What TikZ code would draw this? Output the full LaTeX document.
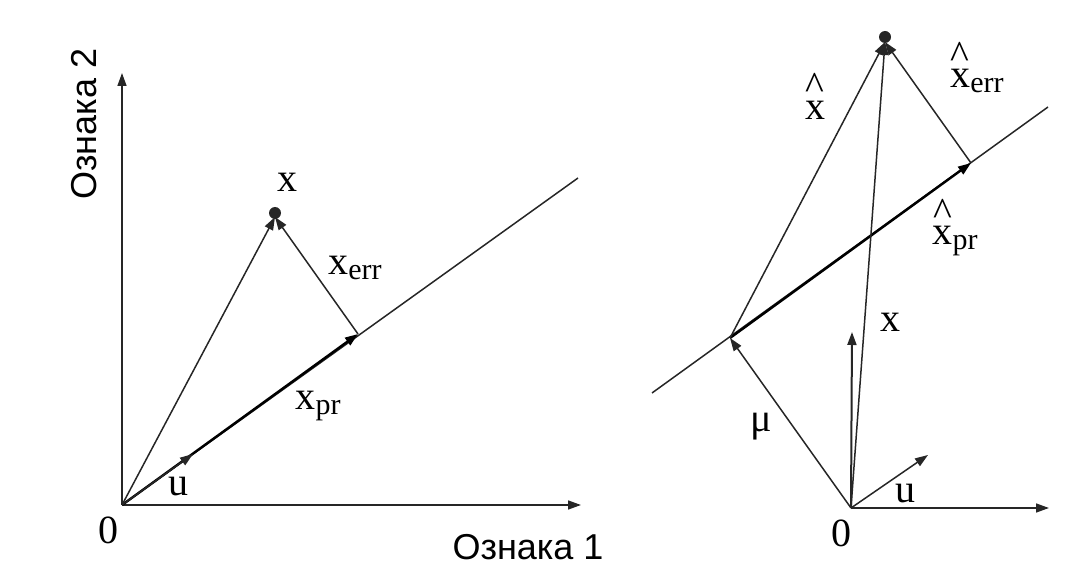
\documentclass[tikz,border=0pt]{standalone}
\usepackage{fontspec}
\setmainfont{Liberation Serif}
\newfontfamily\axsans{Liberation Sans}
\usetikzlibrary{arrows.meta}
\newcommand{\xh}{\ooalign{x\cr\hidewidth\raisebox{0.48em}{\textasciicircum}\hidewidth\cr}}
\newcommand{\low}[1]{\raisebox{-0.12em}{\fontsize{15}{15}\selectfont #1}}

\begin{document}
\begin{tikzpicture}[x=0.5pt,y=0.5pt,
  ln/.style={line width=0.75pt,draw=black!85},
  vec/.style={ln,-{Triangle[length=6.5pt,width=4.5pt]}},
  lbl/.style={font=\fontsize{20}{24}\selectfont,inner sep=0pt},
  axlbl/.style={font=\axsans\fontsize{18}{22}\selectfont,inner sep=0pt}]
\useasboundingbox (0,0) rectangle (1078,574);
\coordinate (o1) at (122,69);
\coordinate (a1) at (122,501);
\coordinate (b1) at (581,69);
\coordinate (l1) at (578,396);
\coordinate (u1) at (193,120);
\coordinate (p1) at (358,240);
\coordinate (x1) at (275,357);
\draw[ln] (o1) -- (l1);
\draw[vec] (o1) -- (a1);
\draw[vec] (o1) -- (b1);
\draw[vec,line width=1.2pt,draw=black] (o1) -- (p1);
\draw[vec] (o1) -- (u1);
\draw[vec] (o1) -- (x1);
\draw[vec] (p1) -- (x1);
\fill[black!85] (275,361) circle (6);
\node[lbl] (lx1) at (287,392) {x};
\node[lbl] (lerr1) at (355,306) {x\low{err}};
\node[lbl] (lpr1) at (318,168) {x\low{pr}};
\node[lbl] (lu1) at (178,87) {u};
\node[lbl] (lo1) at (108,44) {0};
\node[axlbl,rotate=90] (lf2) at (84,450) {Ознака 2};
\node[axlbl] (lf1) at (528,27) {Ознака 1};
\coordinate (o2) at (851,66);
\coordinate (b2) at (1049,66);
\coordinate (a2) at (852,242);
\coordinate (u2) at (928,119);
\coordinate (m2) at (730,236);
\coordinate (s2) at (652,181);
\coordinate (e2) at (1048,467);
\coordinate (p2) at (971,411);
\coordinate (x2) at (885,532);
\draw[ln] (s2) -- (e2);
\draw[vec,line width=1.2pt,draw=black] (m2) -- (p2);
\draw[vec] (o2) -- (b2);
\draw[vec,line width=1pt] (o2) -- (a2);
\draw[vec] (o2) -- (u2);
\draw[vec] (o2) -- (m2);
\draw[vec] (m2) -- (x2);
\draw[vec] (o2) -- (x2);
\draw[vec] (p2) -- (x2);
\fill[black!85] (885,537) circle (6);
\node[lbl] (lxh2) at (815,464) {\xh};
\node[lbl] (lerr2) at (977,493) {\xh\low{err}};
\node[lbl] (lpr2) at (955,333) {\xh\low{pr}};
\node[lbl] (lx2) at (890,252) {x};
\node[lbl] (lmu2) at (761,147) {μ};
\node[lbl] (lu2) at (905,80) {u};
\node[lbl] (lo2) at (841,41) {0};
\end{tikzpicture}
\end{document}
